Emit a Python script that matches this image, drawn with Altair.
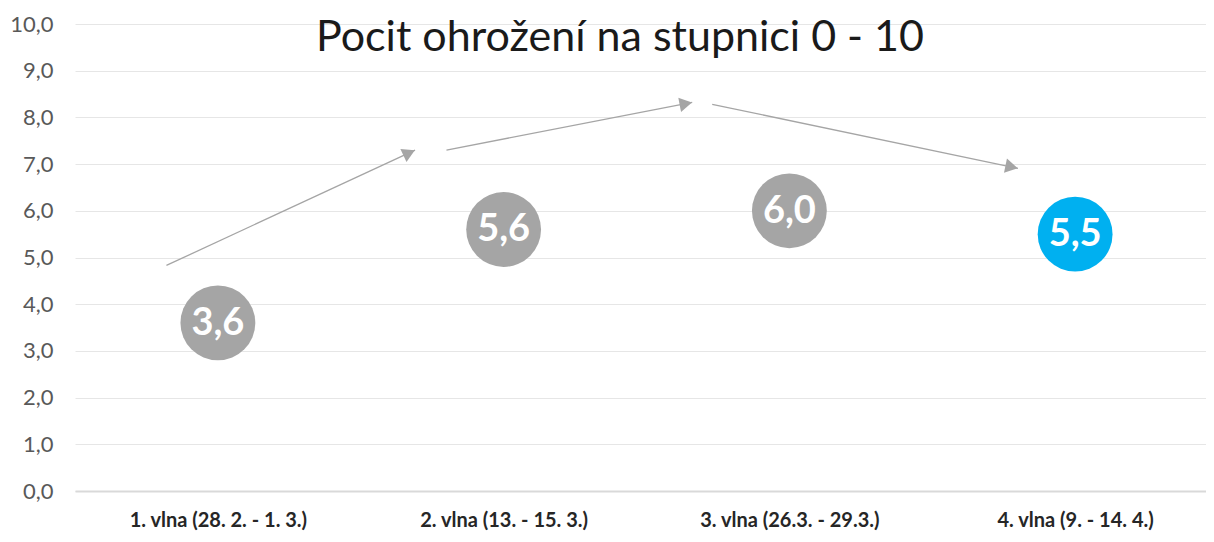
import json
import math
import altair as alt
import pandas as pd

# ---- data ----
title_text = "Pocit ohrožení na stupnici 0 - 10"
categories = ["1. vlna (28. 2. - 1. 3.)", "2. vlna (13. - 15. 3.)",
              "3. vlna (26.3. - 29.3.)", "4. vlna (9. - 14. 4.)"]
values = [3.6, 5.6, 6.0, 5.5]
highlight = [False, False, False, True]
y_ticks = list(range(0, 11))

# trend arrows (x in category-index units, y in scale units)
arrow_x_start = [-0.18, 0.80, 1.73]
arrow_y_start = [4.83, 7.30, 8.28]
arrow_x_end = [0.69, 1.66, 2.80]
arrow_y_end = [7.30, 8.32, 6.91]

# ---- layout ----
W, H = 1131, 467
X_DOMAIN = [-0.5, 3.458]
Y_DOMAIN = [0, 10]
px_x = W / (X_DOMAIN[1] - X_DOMAIN[0])
px_y = H / (Y_DOMAIN[1] - Y_DOMAIN[0])

GRAY = "#a5a5a5"
BLUE = "#00b0f0"
FONT = "Lato"

points = pd.DataFrame({
    "idx": list(range(len(categories))),
    "category": categories,
    "value": values,
    "highlight": highlight,
})

arrows = pd.DataFrame({
    "xs": arrow_x_start, "ys": arrow_y_start,
    "xe": arrow_x_end, "ye": arrow_y_end,
})

head_rows = []
for xs, ys, xe, ye in zip(arrow_x_start, arrow_y_start, arrow_x_end, arrow_y_end):
    dx = (xe - xs) * px_x
    dy = -(ye - ys) * px_y
    L = math.hypot(dx, dy)
    ux, uy = dx / L, dy / L
    back = 6.5
    head_rows.append({
        "hx": xe - ux * back / px_x,
        "hy": ye + uy * back / px_y,
        "angle": math.degrees(math.atan2(dx, -dy)) % 360,
    })
heads = pd.DataFrame(head_rows)

xscale = alt.Scale(domain=X_DOMAIN, nice=False, zero=False)
yscale = alt.Scale(domain=Y_DOMAIN, nice=False)

label_expr = json.dumps(categories) + "[datum.value]"

x_axis = alt.Axis(
    values=list(range(len(categories))), labelExpr=label_expr, title=None,
    grid=False, ticks=False, domain=True, domainColor="#d9d9d9", domainWidth=2,
    labelFont=FONT, labelFontWeight="bold", labelFontSize=20, labelColor="#262626",
    labelPadding=19, labelLimit=500,
)
y_axis = alt.Axis(
    values=y_ticks, labelExpr="replace(format(datum.value, '.1f'), '.', ',')",
    title=None, grid=True, gridColor="#e6e6e6", gridWidth=1, domain=False,
    ticks=False, labelFont=FONT, labelFontSize=22, labelColor="#595959",
    labelPadding=22,
)

base_axes = alt.Chart(points).mark_circle(opacity=0).encode(
    x=alt.X("idx:Q", scale=xscale, axis=x_axis),
    y=alt.Y("value:Q", scale=yscale, axis=y_axis),
)

lines = alt.Chart(arrows).mark_rule(color=GRAY, strokeWidth=1.3).encode(
    x=alt.X("xs:Q", scale=xscale),
    y=alt.Y("ys:Q", scale=yscale),
    x2="xe:Q",
    y2="ye:Q",
)

arrowheads = alt.Chart(heads).mark_point(
    shape="triangle-up", filled=True, size=210, color=GRAY, opacity=1
).encode(
    x=alt.X("hx:Q", scale=xscale),
    y=alt.Y("hy:Q", scale=yscale),
    angle=alt.Angle("angle:Q", scale=None),
)

bubbles = alt.Chart(points).mark_circle(size=5600, opacity=1).encode(
    x=alt.X("idx:Q", scale=xscale),
    y=alt.Y("value:Q", scale=yscale),
    color=alt.Color("highlight:N", scale=alt.Scale(domain=[False, True], range=[GRAY, BLUE]), legend=None),
)

bubble_text = alt.Chart(points).transform_calculate(
    lbl="replace(format(datum.value, '.1f'), '.', ',')"
).mark_text(
    font=FONT, fontWeight="bold", fontSize=38, color="white", baseline="middle", dy=1
).encode(
    x=alt.X("idx:Q", scale=xscale),
    y=alt.Y("value:Q", scale=yscale),
    text="lbl:N",
)

title = alt.Chart(pd.DataFrame({"t": [title_text]})).mark_text(
    font=FONT, fontSize=43, color="#1a1a1a", baseline="alphabetic", align="center"
).encode(
    text="t:N",
    x=alt.value(545),
    y=alt.value(27),
)

chart = alt.layer(base_axes, lines, arrowheads, bubbles, bubble_text, title).properties(
    width=W, height=H,
    autosize=alt.AutoSizeParams(type="none"),
    padding={"left": 67, "top": 16, "right": 0, "bottom": 43},
).configure_view(stroke=None)

chart.save("out.html", embed_options={"renderer": "svg", "actions": False})
